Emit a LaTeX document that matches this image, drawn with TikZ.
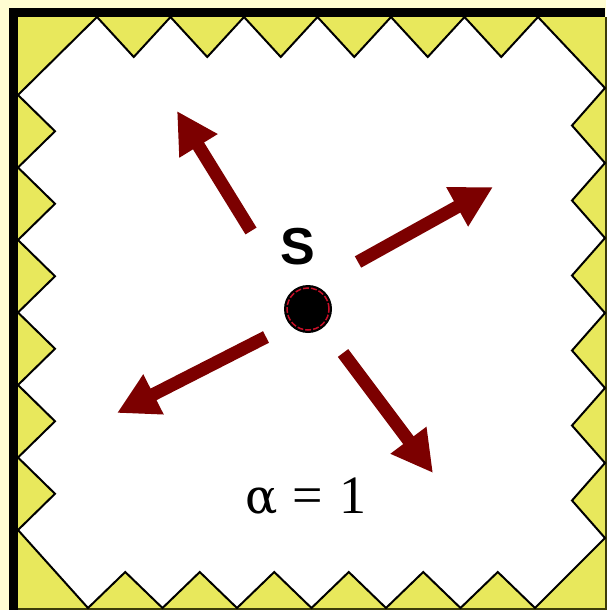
\RequirePackage{fix-cm}
\documentclass[tikz,border=0pt]{standalone}
\usepackage{fontspec}
\usepackage{tikz}
\usetikzlibrary{arrows.meta, positioning}
\newfontfamily\labelfont{Liberation Sans}
\newfontfamily\coeffont{Liberation Serif}
\newfontfamily\greekfont{DejaVu Serif}
\definecolor{creambg}{RGB}{255,253,210}
\definecolor{wallyellow}{RGB}{232,232,92}
\definecolor{arrowred}{RGB}{124,0,0}
\definecolor{ringred}{RGB}{200,15,40}
\definecolor{edgedark}{RGB}{60,60,10}

\begin{document}
\begin{tikzpicture}[
    x=1pt, y=-1pt,
    teeth/.style={fill=white, draw=black, line width=2pt, line join=miter},
    arr/.style={-{Triangle[length=41pt, width=42pt]}, line width=13pt, color=#1},
    label/.style={inner sep=0pt, font=#1},
]
\useasboundingbox (0,0) rectangle (606,610);
\fill[creambg] (0,0) rectangle (606,610);

% Frame and yellow wall
\fill[black] (9,8) rectangle (605,17);
\fill[black] (9,8) rectangle (18,610);
\fill[wallyellow] (18,17) rectangle (605,608);
\fill[edgedark] (605,17) rectangle (606.5,610);
\fill[edgedark] (18,608) rectangle (606,610);

% Zigzag boundary of the room
\draw[teeth] (97,17)
    \foreach \i in {0,...,5} { -- ({97+(\i+0.5)*73.5},57) -- ({97+(\i+1)*73.5},17) }
    -- (605,88)
    \foreach \i in {0,...,5} { -- (572,{88+(\i+0.5)*75}) -- (605,{88+(\i+1)*75}) }
    -- (535,608)
    \foreach \i in {0,...,5} { -- ({535-(\i+0.5)*74.5},572) -- ({535-(\i+1)*74.5},608) }
    -- (18,530)
    \foreach \i in {0,...,5} { -- (55,{530-(\i+0.5)*72.5}) -- (18,{530-(\i+1)*72.5}) }
    -- cycle;

% Source
\node[circle, fill=black, minimum size=48pt, inner sep=0pt] (src) at (308,309) {};
\draw[ringred, line width=1.5pt, dash pattern=on 6pt off 2pt] (src.center) circle[radius=21pt];
\node[label={\labelfont\bfseries\fontsize{52}{52}\selectfont}] (lblS) at (298,247) {S};

% Emitted rays
\coordinate (t1) at (251,231);  \coordinate (h1) at (177,111);
\coordinate (t2) at (358,262);  \coordinate (h2) at (493,187);
\coordinate (t3) at (266,337);  \coordinate (h3) at (117,413);
\coordinate (t4) at (343,353);  \coordinate (h4) at (433,473);
\foreach \k in {1,...,4}
    \draw[arr=arrowred] (t\k) -- (h\k);

% Absorption coefficient
\node[label={\coeffont\fontsize{54}{54}\selectfont}, anchor=base] (alpha) at (306,513)
    {{\greekfont\fontsize{48}{48}\selectfont α}\hspace{15pt}=\hspace{17pt}1};

\end{tikzpicture}
\end{document}
